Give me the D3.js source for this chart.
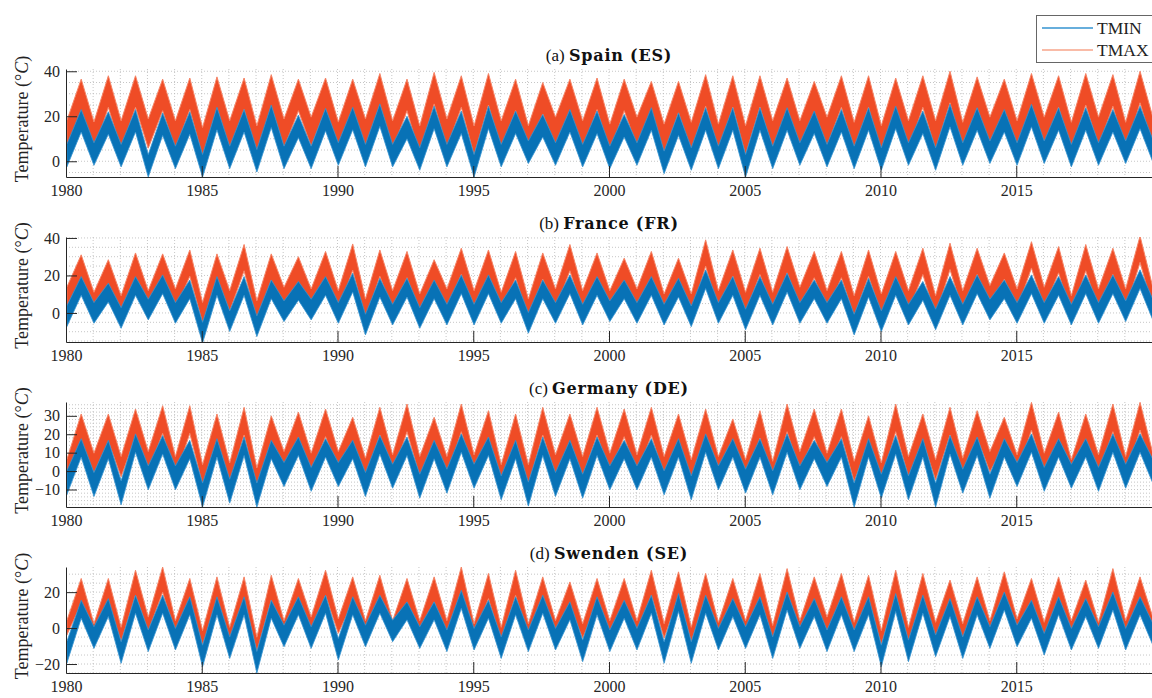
<!DOCTYPE html>
<html>
<head>
<meta charset="utf-8">
<script src="https://cdn.jsdelivr.net/npm/d3@7"></script>
<style>
  body { margin: 0; background: #fff; }
  svg { display: block; font-family: 'Liberation Serif', 'DejaVu Serif', serif; }
</style>
</head>
<body>
<svg id="chart" width="1152" height="698"></svg>
<script>
// years 1980..2019, summer peak per year; winter lows run 1980..2020 (Jan)
const years = d3.range(1980, 2020)
const year_ticks = [1980, 1985, 1990, 1995, 2000, 2005, 2010, 2015]
const series_names = ['TMIN', 'TMAX']

// (a) Spain
const es_tmax_peak = [36.5, 38, 38, 36.5, 37, 37.5, 37, 38.5, 36.5, 37, 36.5, 39, 36.5, 39.5, 38, 39, 36.5, 35, 36.5, 37,
  36.5, 35.5, 35.5, 38.5, 38, 38, 37, 35.5, 38, 38, 37, 38, 40, 37.5, 36.5, 39, 38, 39, 38.5, 40]
const es_tmax_low = [5, 4.5, 5, 5.8, 5, 2, 5, 2.7, 5.8, 6.6, 4.4, 5.8, 5, 2.7, 5.8, 2.7, 5, 2.8, 6.6, 5,
  3.5, 6.6, 3.5, 4.3, 3.5, 2.8, 5, 5, 6.6, 4.3, 2.8, 5, 5, 4.3, 6.6, 5, 6.6, 4.3, 6.6, 4.3, 6.6]
const es_tmin_peak = [23, 22, 23, 21.5, 22, 24, 23, 25, 20.5, 23.5, 24, 25.5, 20, 24.5, 22.3, 24.5, 22.3, 20.8, 23, 22.3,
  20.8, 23.8, 21.5, 23.8, 23.8, 23.8, 23.8, 22.3, 23, 23.8, 24.5, 22.3, 25.3, 23.8, 23, 25.3, 23.8, 23.8, 23, 24.5]
const es_tmin_low = [-2.5, -1.8, -2.5, -7, -3.3, -7, -3.3, -4.8, -3.3, -3.3, -1.8, -2.5, -2.5, -4, -2.5, -7, -2.5, -1, -1.8, -2.5,
  -3.3, -1.8, -5.5, -4, -3.3, -7, -3.3, -1.8, -2.5, -3.3, -4, -1.8, -4, -1.8, -1, -1.8, -1, -2.5, -1.8, -1, -0.3]

// (b) France
const fr_tmax_peak = [31, 28.4, 32, 31.5, 33.6, 31.5, 36.5, 31.5, 30, 32.8, 36.8, 33.6, 32.8, 28.4, 34.5, 33.6, 32.8, 32, 36.5, 32,
  29.2, 32.8, 29.2, 39, 33.6, 34.5, 35.4, 32.8, 32.8, 33.6, 32.8, 34.5, 37.2, 34.5, 32, 38, 35.4, 36.5, 34.5, 41]
const fr_tmax_low = [2.7, 0, -1.8, 0.9, 1.8, -5.4, 0.9, -4.5, 2.7, 1.8, 0.9, -3.6, 0.9, -0.9, 1.8, 0.9, 0, -3.6, 1.8, 0.9,
  0.9, 1.8, -0.9, -0.9, 0.9, 0, 0, 2.7, 0.9, -1.8, -0.9, 0.9, -1.8, 0.9, 3.6, 1.8, 2.7, -1.8, 1.8, 1.8, 2.7]
const fr_tmin_peak = [19.4, 15.9, 19.4, 20.3, 17.6, 19.4, 19.4, 17.6, 16.8, 19.4, 21.2, 18.5, 18.5, 17.6, 20.3, 20.3, 17.6, 17.6, 20.3, 19.4,
  17.6, 19.4, 18.5, 23, 19.4, 19.4, 21.2, 17.6, 17.6, 18.5, 19.4, 16.8, 19.4, 20.3, 17.6, 20.3, 19.4, 20.3, 20.3, 23]
const fr_tmin_low = [-7.3, -5.5, -8.2, -3.7, -5.5, -16, -9.9, -12.6, -4.6, -3.7, -5.5, -11.7, -6.4, -8.2, -6.4, -6.4, -5.5, -10.8, -5.5, -6.4,
  -4.6, -5.5, -6.4, -7.3, -5.5, -9, -6.4, -5.5, -5.5, -11.7, -9.9, -6.4, -9, -6.4, -3.7, -5.5, -5.5, -6.4, -5.5, -4.6, -3.7]

// (c) Germany
const de_tmax_peak = [31, 31, 33.7, 35.5, 35.5, 31, 34.6, 30, 32, 33.7, 29.2, 34.6, 36.4, 29.2, 36.4, 32.8, 31, 34.6, 31, 34.6,
  33.7, 34.6, 31, 33.7, 28.3, 32.8, 36.4, 33.7, 33.7, 30, 36.4, 31, 34.6, 32.8, 29.2, 37.3, 32, 31, 36.4, 37.3]
const de_tmax_low = [-4.8, -1.3, -3.1, -0.4, -3.1, -7.5, -6.6, -9.3, -0.4, -1.3, -0.4, -4, -2.2, -3.1, -3.1, -2.2, -7.5, -7.5, -2.2, -3.1,
  -1.3, -2.2, -3.1, -4.8, -3.1, -4.8, -5.7, -0.4, -1.3, -5.7, -6.6, -3.1, -4.8, -4, -0.4, -2.2, -1.3, -4.8, -2.2, -3.1, -1.3]
const de_tmin_peak = [17.6, 16.7, 20.2, 19.3, 16.7, 17.6, 18.5, 16.7, 18.5, 17.6, 16.7, 19.3, 18.5, 16.7, 20.2, 18.5, 16.7, 18.5, 16.7, 18.5,
  16.7, 17.6, 17.6, 20.2, 17.6, 17.6, 20.2, 16.7, 17.6, 17.6, 19.3, 17.6, 19.3, 18.5, 17.6, 20.2, 17.6, 17.6, 20.2, 20.2]
const de_tmin_low = [-12.9, -13.8, -18.3, -10.2, -10.2, -19.5, -17.4, -19.5, -8.4, -11, -8.4, -13.8, -9.3, -14.7, -12, -9.3, -15.6, -19, -13.8, -14.7,
  -10.2, -10.2, -12.9, -15.6, -10.2, -12, -12.9, -10.2, -8.4, -19.5, -14.7, -15.6, -19.5, -12, -14.7, -8.4, -11, -9.3, -11, -9.3, -6.6]

// (d) Sweden
const se_tmax_peak = [27.6, 27.6, 32.2, 34, 27.6, 28.5, 28.5, 29.4, 27.6, 32.2, 28.5, 29.4, 27.6, 28.5, 34, 30.4, 32.2, 28.5, 25.7, 27.6,
  27.6, 32.2, 31.3, 30.4, 27.6, 30.4, 33.1, 28.5, 30.4, 29.4, 32.2, 30.4, 26.7, 28.5, 31.3, 27.6, 28.5, 26.7, 33.1, 28.5]
const se_tmax_low = [-3.9, -5.6, -7.6, -1.9, -3.9, -9.4, -7.6, -13.1, -3.9, -1.9, -2.9, -3.9, -3.9, -3.9, -3.9, -5.6, -7.6, -5.6, -3.9, -5.6,
  -3.9, -3.9, -5.6, -7.6, -4.8, -3.9, -6.6, -3.9, -1.9, -4.8, -9.4, -7.6, -4.8, -5.6, -3.9, -2.9, -4.8, -3.9, -4.8, -3.9, -1.9]
const se_tmin_peak = [15.5, 16.4, 18.3, 18.3, 17.4, 17.4, 17.4, 15.5, 17.4, 18.3, 17.4, 18.3, 14.6, 14.6, 21, 15.5, 17.4, 18.3, 14.6, 17.4,
  15.5, 18.3, 19.2, 18.3, 16.4, 17.4, 20.1, 16.4, 17.4, 17.4, 19.2, 18.3, 16.4, 17.4, 20.1, 15.5, 17.4, 16.4, 20.1, 17.4]
const se_tmin_low = [-19.6, -11.3, -19.6, -13.1, -12.2, -21.5, -16.9, -25, -10.4, -11.3, -17.8, -10.4, -7.6, -11.3, -13.1, -12.2, -16.9, -13.1, -12.2, -18.7,
  -13.1, -12.2, -19.6, -19.6, -12.2, -11.3, -16.9, -11.3, -13.1, -13.1, -21.5, -18.7, -15.9, -16.9, -11.3, -10.4, -15, -12.2, -11.3, -12.2, -9.4]

// day-to-day spread of each series (degC): [winter, summer]
const tmax_band = { es: [13, 14], fr: [11, 14], de: [11, 15], se: [8, 14] }
const tmin_band = { es: [10, 10], fr: [11, 10], de: [13, 10], se: [12, 10] }

class TemperatureChart {
  static get tmin_color () { return '#0872b6' }
  static get tmin_edge () { return '#3593d0' }
  static get tmax_color () { return '#ef4c26' }
  static get tmax_edge () { return '#f58466' }
  static get axis_color () { return '#262626' }
  static get grid_color () { return '#b8b8b8' }

  constructor (panels) {
    this.svg = d3.select('svg#chart')
    this.x = d3.scaleLinear().domain([1980, 2020]).range([66, 1152])
    panels.forEach((p) => this.renderPanel(p))
    this.renderLegend()
  }

  seasonPoints (peak, low, band) {
    const pts = []
    years.forEach((yr, i) => {
      pts.push({ t: yr + 0.03, lo: low[i], hi: low[i] + band[0] })
      pts.push({ t: yr + 0.56, lo: peak[i] - band[1], hi: peak[i] })
    })
    pts.push({ t: 2020.03, lo: low[years.length], hi: low[years.length] + band[0] })
    return pts
  }

  renderPanel (p) {
    const x = this.x
    const y = d3.scaleLinear().domain(p.domain).range([p.bottom, p.top])
    const g = this.svg.append('g').attr('class', 'panel')

    g.append('clipPath').attr('id', `clip_${p.key}`)
      .append('rect')
      .attr('x', 66).attr('y', p.top)
      .attr('width', 1152 - 66).attr('height', p.bottom - p.top)

    // dotted grid
    const grid = g.append('g').attr('class', 'grid')
    grid.selectAll('line.hgrid')
      .data(d3.range(Math.ceil(p.domain[0] / p.minor) * p.minor, p.domain[1], p.minor))
      .enter().append('line')
      .attr('x1', 66).attr('x2', 1152)
      .attr('y1', d => y(d)).attr('y2', d => y(d))
    grid.selectAll('line.vgrid')
      .data(d3.range(1981, 2020))
      .enter().append('line')
      .attr('x1', d => x(d)).attr('x2', d => x(d))
      .attr('y1', p.top).attr('y2', p.bottom)
    grid.selectAll('line')
      .attr('stroke', TemperatureChart.grid_color)
      .attr('stroke-width', 0.8)
      .attr('stroke-dasharray', '1,2')

    const area = d3.area()
      .x(d => x(d.t))
      .y0(d => y(d.lo))
      .y1(d => y(d.hi))

    const plot = g.append('g').attr('clip-path', `url(#clip_${p.key})`)
    plot.append('path')
      .datum(this.seasonPoints(p.tmax_peak, p.tmax_low, tmax_band[p.key]))
      .attr('d', area)
      .attr('fill', TemperatureChart.tmax_color)
      .attr('stroke', TemperatureChart.tmax_edge)
      .attr('stroke-width', 1)
      .attr('stroke-linejoin', 'round')
    plot.append('path')
      .datum(this.seasonPoints(p.tmin_peak, p.tmin_low, tmin_band[p.key]))
      .attr('d', area)
      .attr('fill', TemperatureChart.tmin_color)
      .attr('stroke', TemperatureChart.tmin_edge)
      .attr('stroke-width', 0.8)
      .attr('stroke-linejoin', 'round')

    const y_axis = g.append('g')
      .attr('transform', 'translate(66,0)')
      .call(d3.axisLeft(y).tickValues(p.ticks).tickSize(-11).tickSizeOuter(0).tickPadding(6))
    const x_axis = g.append('g')
      .attr('transform', `translate(0,${p.bottom})`)
      .call(d3.axisBottom(x).tickValues(year_ticks).tickFormat(d3.format('d')).tickSize(-11).tickSizeOuter(0).tickPadding(8))

    ;[y_axis, x_axis].forEach((ax) => {
      ax.selectAll('path, line').attr('stroke', TemperatureChart.axis_color)
      ax.selectAll('text')
        .attr('fill', TemperatureChart.axis_color)
        .style('font-size', '16px')
        .style('font-family', "'Liberation Serif', serif")
    })

    const title = g.append('text')
      .attr('x', 609)
      .attr('y', p.top - 8)
      .attr('text-anchor', 'middle')
      .attr('fill', '#111')
    title.append('tspan').style('font-size', '17px').text(`(${p.letter}) `)
    title.append('tspan')
      .attr('font-weight', 'bold')
      .style('font-family', "'DejaVu Serif', serif")
      .style('font-size', '16px')
      .style('letter-spacing', '0.8px')
      .text(p.name)

    const label = g.append('text')
      .attr('transform', `translate(28,${(p.top + p.bottom) / 2 - 4}) rotate(-90)`)
      .attr('text-anchor', 'middle')
      .attr('fill', '#222')
      .style('font-size', '18px')
    label.append('tspan').text('Temperature (°')
    label.append('tspan').attr('font-style', 'italic').text('C')
    label.append('tspan').text(')')
  }

  renderLegend () {
    const lg = this.svg.append('g').attr('class', 'legend')
    lg.append('rect')
      .attr('x', 1036.5).attr('y', 15.5)
      .attr('width', 130).attr('height', 47)
      .attr('fill', '#fff')
      .attr('stroke', '#666')
      .attr('stroke-width', 1)
    const colors = [TemperatureChart.tmin_edge, '#f7a58a']
    series_names.forEach((name, i) => {
      lg.append('line')
        .attr('x1', 1042).attr('x2', 1093)
        .attr('y1', 28 + i * 22).attr('y2', 28 + i * 22)
        .attr('stroke', colors[i])
        .attr('stroke-width', 1.5)
      lg.append('text')
        .attr('x', 1097).attr('y', 33.5 + i * 22)
        .attr('fill', '#222')
        .style('font-size', '17.5px')
        .text(name)
    })
  }
}

new TemperatureChart([
  { key: 'es', letter: 'a', name: 'Spain (ES)', top: 69, bottom: 177, domain: [-7, 41], ticks: [0, 20, 40], minor: 5,
    tmax_peak: es_tmax_peak, tmax_low: es_tmax_low, tmin_peak: es_tmin_peak, tmin_low: es_tmin_low },
  { key: 'fr', letter: 'b', name: 'France (FR)', top: 237, bottom: 342, domain: [-15.5, 40.5], ticks: [0, 20, 40], minor: 5,
    tmax_peak: fr_tmax_peak, tmax_low: fr_tmax_low, tmin_peak: fr_tmin_peak, tmin_low: fr_tmin_low },
  { key: 'de', letter: 'c', name: 'Germany (DE)', top: 402, bottom: 507, domain: [-19.5, 37.5], ticks: [-10, 0, 10, 20, 30], minor: 2,
    tmax_peak: de_tmax_peak, tmax_low: de_tmax_low, tmin_peak: de_tmin_peak, tmin_low: de_tmin_low },
  { key: 'se', letter: 'd', name: 'Swenden (SE)', top: 567, bottom: 673, domain: [-25, 34], ticks: [-20, 0, 20], minor: 5,
    tmax_peak: se_tmax_peak, tmax_low: se_tmax_low, tmin_peak: se_tmin_peak, tmin_low: se_tmin_low }
])
</script>
</body>
</html>
